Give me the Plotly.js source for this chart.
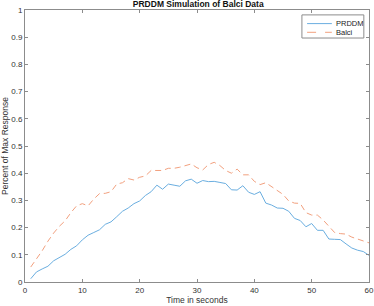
<!DOCTYPE html>
<html>
<head>
<meta charset="utf-8">
<script src="https://cdn.plot.ly/plotly-3.0.1.min.js"></script>
<style>html,body{margin:0;padding:0;background:#fff;}#chart{width:374px;height:306px;}</style>
</head>
<body>
<div id="chart"></div>
<script>
const timeSec = [1,2,3,4,5,6,7,8,9,10,11,12,13,14,15,16,17,18,19,20,21,22,23,24,25,26,27,28,29,30,31,32,33,34,35,36,37,38,39,40,41,42,43,44,45,46,47,48,49,50,51,52,53,54,55,56,57,58,59,60];
const prddm = [0.012,0.037,0.048,0.058,0.078,0.090,0.102,0.120,0.133,0.155,0.172,0.182,0.192,0.212,0.221,0.240,0.260,0.272,0.288,0.298,0.318,0.332,0.356,0.341,0.360,0.356,0.352,0.372,0.378,0.363,0.373,0.369,0.370,0.366,0.362,0.339,0.338,0.354,0.330,0.322,0.332,0.290,0.283,0.272,0.271,0.260,0.234,0.226,0.203,0.215,0.190,0.190,0.158,0.157,0.156,0.140,0.125,0.117,0.112,0.098];
const balci = [0.055,0.085,0.115,0.150,0.180,0.205,0.225,0.255,0.280,0.288,0.280,0.305,0.325,0.326,0.332,0.360,0.365,0.380,0.375,0.385,0.390,0.410,0.410,0.410,0.418,0.418,0.422,0.428,0.434,0.420,0.412,0.432,0.440,0.428,0.410,0.400,0.415,0.394,0.394,0.370,0.358,0.365,0.350,0.338,0.322,0.298,0.290,0.289,0.255,0.246,0.246,0.228,0.205,0.182,0.178,0.176,0.165,0.158,0.150,0.144];
const seriesNames = ['PRDDM', 'Balci'];
const xTicks = [0,10,20,30,40,50,60];
const yTicks = [0,0.1,0.2,0.3,0.4,0.5,0.6,0.7,0.8,0.9,1];

const fontFam = 'Liberation Sans, Arial, sans-serif';
const colors = ['#6aaee0', '#f2a07e'];
const dashes = ['solid', '6px,4px'];
const traces = [
  {x: timeSec, y: prddm, name: seriesNames[0], type: 'scatter', mode: 'lines',
   line: {color: colors[0], width: 1}},
  {x: timeSec, y: balci, name: seriesNames[1], type: 'scatter', mode: 'lines',
   line: {color: colors[1], width: 1, dash: dashes[1]}}
];
const axisCommon = {
  showgrid: false, zeroline: false, showline: true, mirror: 'ticks',
  linecolor: '#8c8c8c', linewidth: 1, ticks: 'inside', ticklen: 3,
  tickcolor: '#8c8c8c', tickfont: {family: fontFam, size: 8, color: '#333'}
};
// Manual compact legend (MATLAB style box)
const legBox = {x0: 0.805, x1: 0.985, y0: 0.897, y1: 0.982};
const legRows = [0.950, 0.918];
const shapes = [
  {type: 'rect', xref: 'paper', yref: 'paper', x0: legBox.x0, x1: legBox.x1, y0: legBox.y0, y1: legBox.y1,
   line: {color: '#8c8c8c', width: 1}, fillcolor: '#fff', layer: 'above'}
];
const annotations = [];
seriesNames.forEach((nm, i) => {
  shapes.push({type: 'line', xref: 'paper', yref: 'paper', x0: 0.820, x1: 0.892, y0: legRows[i], y1: legRows[i],
               line: {color: colors[i], width: 1, dash: i === 1 ? 'dash' : 'solid'}, layer: 'above'});
  annotations.push({xref: 'paper', yref: 'paper', x: 0.897, y: legRows[i], xanchor: 'left', yanchor: 'middle',
                    text: nm, showarrow: false, font: {family: fontFam, size: 7.5, color: '#222'}});
});
const layout = {
  width: 374, height: 306,
  margin: {l: 25, r: 5, t: 10, b: 24},
  paper_bgcolor: '#fff', plot_bgcolor: '#fff',
  font: {family: fontFam, size: 8, color: '#333'},
  title: {text: '<b>PRDDM Simulation of Balci Data</b>', x: 0.53, xanchor: 'center', y: 0.996, yanchor: 'top',
          font: {family: fontFam, size: 8.5, color: '#111'}},
  xaxis: Object.assign({}, axisCommon, {range: [0, 60], tickvals: xTicks, ticktext: xTicks.map(String),
          title: {text: 'Time in seconds', font: {family: fontFam, size: 8.5, color: '#333'}, standoff: 3}}),
  yaxis: Object.assign({}, axisCommon, {range: [0, 1], tickvals: yTicks, ticktext: yTicks.map(v => String(v)),
          title: {text: 'Percent of Max Response', font: {family: fontFam, size: 8.5, color: '#333'}, standoff: 4}}),
  showlegend: false,
  shapes: shapes,
  annotations: annotations
};
Plotly.newPlot('chart', traces, layout, {displayModeBar: false, staticPlot: true});
</script>
</body>
</html>
